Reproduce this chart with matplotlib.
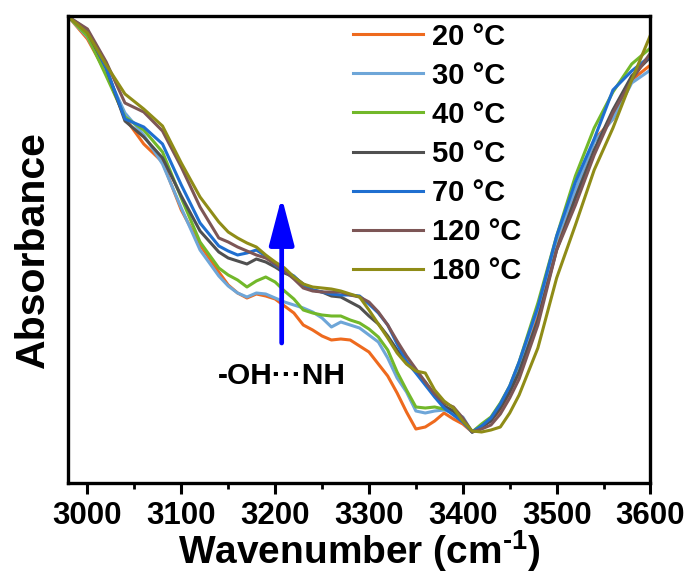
import matplotlib
matplotlib.use("Agg")
import matplotlib.pyplot as plt
from matplotlib.ticker import MultipleLocator, NullLocator

plt.rcParams["font.family"] = ["Liberation Sans", "DejaVu Sans"]
plt.rcParams["font.weight"] = "bold"
plt.rcParams["mathtext.fontset"] = "custom"
plt.rcParams["mathtext.rm"] = "Liberation Sans:bold"
plt.rcParams["mathtext.bf"] = "Liberation Sans:bold"
plt.rcParams["mathtext.default"] = "bf"

# wavenumber grid (cm-1), absorbance in arbitrary units
wavenumber = [2980, 3000, 3020, 3040, 3060, 3080, 3100, 3120, 3140,
              3150, 3160, 3170, 3180, 3190, 3200, 3210, 3220, 3230, 3240,
              3250, 3260, 3270, 3280, 3290, 3300, 3310, 3320, 3330, 3340,
              3350, 3360, 3370, 3380, 3390, 3400, 3410, 3420, 3430, 3440,
              3450, 3460, 3480, 3500, 3520, 3540, 3560, 3580, 3600]

abs_20 = [.483, .461, .427, .382, .356, .338, .290, .255, .228,
          .215, .207, .202, .206, .204, .201, .194, .187, .175, .170,
          .164, .160, .161, .160, .154, .148, .136, .124, .107, .088,
          .071, .073, .079, .087, .081, .076, .068, .073, .080, .090,
          .108, .128, .185, .252, .308, .360, .381, .420, .435]
abs_30 = [.483, .463, .428, .387, .365, .336, .292, .250, .224,
          .214, .207, .203, .207, .206, .202, .198, .195, .192, .188,
          .182, .173, .178, .175, .172, .165, .158, .142, .122, .108,
          .089, .087, .089, .090, .087, .083, .068, .075, .082, .094,
          .112, .134, .192, .260, .310, .358, .381, .417, .430]
abs_40 = [.483, .464, .424, .383, .370, .348, .302, .258, .232,
          .225, .220, .213, .219, .223, .218, .209, .201, .190, .187,
          .185, .184, .184, .180, .177, .171, .163, .150, .128, .110,
          .093, .092, .093, .091, .089, .081, .068, .076, .083, .097,
          .114, .138, .197, .264, .324, .372, .408, .436, .452]
abs_50 = [.483, .468, .432, .379, .363, .342, .304, .269, .248,
          .242, .239, .236, .241, .238, .233, .227, .223, .216, .210,
          .208, .204, .203, .198, .193, .184, .176, .164, .150, .137,
          .128, .118, .104, .094, .089, .080, .068, .073, .079, .092,
          .108, .128, .180, .250, .302, .350, .390, .424, .443]
abs_70 = [.483, .470, .432, .381, .373, .356, .315, .277, .254,
          .249, .245, .247, .250, .244, .235, .229, .224, .215, .210,
          .208, .206, .205, .205, .204, .196, .187, .175, .156, .139,
          .127, .115, .103, .092, .085, .078, .068, .074, .082, .096,
          .114, .138, .193, .264, .318, .361, .410, .429, .444]
abs_120 = [.483, .471, .438, .397, .388, .369, .333, .293, .262,
           .258, .253, .249, .245, .242, .236, .229, .221, .212, .209,
           .208, .208, .208, .205, .203, .198, .188, .175, .159, .144,
           .131, .118, .106, .097, .093, .082, .068, .071, .075, .086,
           .102, .121, .175, .250, .295, .345, .387, .420, .447]
abs_180 = [.483, .467, .435, .406, .391, .374, .337, .303, .278,
           .268, .262, .257, .253, .245, .238, .232, .223, .216, .213,
           .212, .211, .209, .206, .203, .190, .176, .162, .147, .136,
           .129, .127, .110, .099, .092, .079, .069, .068, .070, .073,
           .087, .105, .152, .222, .275, .330, .372, .420, .465]

labels = ["20 °C", "30 °C", "40 °C", "50 °C", "70 °C", "120 °C", "180 °C"]
series = [abs_20, abs_30, abs_40, abs_50, abs_70, abs_120, abs_180]
colors = ["#EE6A1E", "#6EA6D8", "#72B82A", "#505050", "#1F6FD0", "#7D5656", "#8F8C17"]

fig = plt.figure(figsize=(6.89, 5.77), dpi=100)
ax = fig.add_axes([0.0983, 0.1629, 0.8458, 0.8094])

for y, c, lab in zip(series, colors, labels):
    ax.plot(wavenumber, y, color=c, lw=2.2, label=lab)

ax.set_xlim(2979, 3600)
ax.set_ylim(0.017, 0.484)
ax.xaxis.set_major_locator(MultipleLocator(100))
ax.xaxis.set_minor_locator(MultipleLocator(50))
ax.yaxis.set_major_locator(NullLocator())
ax.tick_params(axis="x", which="major", direction="out", length=8, width=2.2,
               labelsize=22.5, pad=5)
ax.tick_params(axis="x", which="minor", direction="out", length=4, width=2)
for s in ax.spines.values():
    s.set_linewidth(2.4)

ax.set_xlabel("Wavenumber (cm$^{\\text{-1}}$)", fontsize=28, fontweight="bold",
              labelpad=-2)
ax.set_ylabel("Absorbance", fontsize=29.5, fontweight="bold", labelpad=11)

ax.annotate("", xy=(3207, 0.303), xytext=(3207, 0.157),
            arrowprops=dict(arrowstyle="-|>,head_length=1.45,head_width=0.38",
                            mutation_scale=20, lw=3.4, color="#0000FF",
                            shrinkA=0, shrinkB=0))
ax.text(3207, 0.124, "-OH\u00b7\u00b7\u00b7NH", fontsize=21.5, fontweight="bold",
        ha="center", va="center")

ax.legend(loc="upper left", bbox_to_anchor=(0.4895, 0.986), frameon=False,
          fontsize=21, handlelength=2.4, handletextpad=0.3, labelspacing=0.38,
          borderaxespad=0, borderpad=0)

fig.savefig("out.png", dpi=100)
